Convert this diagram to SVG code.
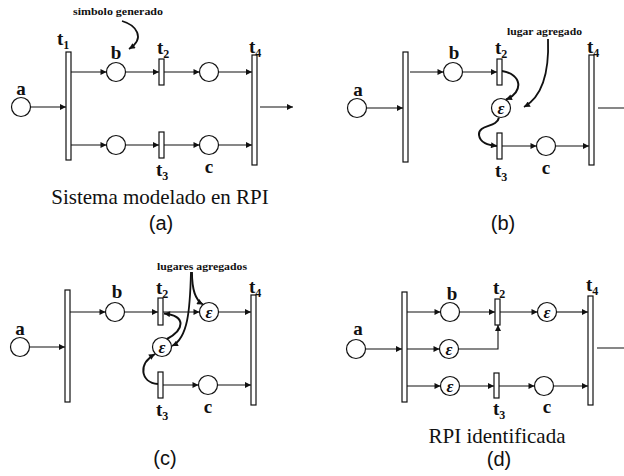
<svg xmlns="http://www.w3.org/2000/svg" width="624" height="476" viewBox="0 0 624 476">
<defs>
<marker id="ah" viewBox="0 0 10 10" refX="10" refY="5" markerWidth="8" markerHeight="6" orient="auto" markerUnits="userSpaceOnUse"><path d="M0,0 L10,5 L0,10 z" fill="#111"/></marker>
<style>
.pl{fill:#fff;stroke:#111;stroke-width:1.2}
.tr{fill:#fff;stroke:#111;stroke-width:1.2}
.cn{fill:none;stroke:#111;stroke-width:1.1;marker-end:url(#ah)}
.cv{fill:none;stroke:#111;stroke-width:2;marker-end:url(#ah)}
.an{fill:none;stroke:#111;stroke-width:1.8;marker-end:url(#ah)}
.lb{font-family:"Liberation Serif","Times New Roman",serif;font-weight:bold;font-size:19px;fill:#111}
.lc{font-family:"Liberation Serif","Times New Roman",serif;font-weight:bold;font-size:19px;fill:#111;text-anchor:middle}
.sb{font-size:12px}
.ep{font-family:"Liberation Serif","Times New Roman",serif;font-weight:bold;font-style:italic;font-size:17px;fill:#111;text-anchor:middle}
.nt{font-family:"Liberation Serif","Times New Roman",serif;font-weight:bold;font-size:11px;fill:#111}
.cap{font-family:"Liberation Serif","Times New Roman",serif;font-size:21px;fill:#111;text-anchor:middle}
.pid{font-family:"Liberation Sans",Arial,sans-serif;font-size:20px;fill:#111;text-anchor:middle}
</style>
</defs>
<rect width="624" height="476" fill="#fff"/>

<!-- Panel (a) -->
<g id="a_connectors">
<path class="cn" d="M30.5,107 H66"/>
<path class="cn" d="M71,72 H106.5"/>
<path class="cn" d="M125.5,72 H159"/>
<path class="cn" d="M164,72 H199.5"/>
<path class="cn" d="M218.5,72 H252"/>
<path class="cn" d="M71,145 H106.5"/>
<path class="cn" d="M125.5,145 H159"/>
<path class="cn" d="M164,145 H199.5"/>
<path class="cn" d="M218.5,145 H252"/>
<path class="cn" d="M260,107 H293"/>
<path class="an" d="M122,21 C136,25 146,38 129,49"/>
</g>
<g id="a_pa"><circle class="pl" cx="21" cy="107" r="9.5"/><text class="lc" x="21" y="95">a</text></g>
<g id="a_t1"><rect class="tr" x="66" y="52" width="5" height="108"/><text class="lb" x="57" y="45">t<tspan class="sb" dy="4">1</tspan></text></g>
<g id="a_pb"><circle class="pl" cx="116" cy="72" r="9.5"/><text class="lc" x="116" y="59">b</text></g>
<g id="a_t2"><rect class="tr" x="159" y="59" width="5" height="26"/><text class="lb" x="157" y="54">t<tspan class="sb" dy="4">2</tspan></text></g>
<g id="a_p2"><circle class="pl" cx="209" cy="72" r="9.5"/></g>
<g id="a_t4"><rect class="tr" x="252" y="55" width="5" height="110"/><text class="lb" x="249" y="53">t<tspan class="sb" dy="4">4</tspan></text></g>
<g id="a_p3"><circle class="pl" cx="116" cy="145" r="9.5"/></g>
<g id="a_t3"><rect class="tr" x="159" y="132" width="5" height="26"/><text class="lb" x="156" y="176">t<tspan class="sb" dy="4">3</tspan></text></g>
<g id="a_pc"><circle class="pl" cx="209" cy="145" r="9.5"/><text class="lc" x="209" y="173">c</text></g>
<g id="a_note"><text class="nt" x="73" y="15" textLength="90" lengthAdjust="spacingAndGlyphs">simbolo generado</text></g>
<g id="a_caption"><text class="cap" x="160" y="204">Sistema modelado en RPI</text><text class="pid" x="161" y="230">(a)</text></g>

<!-- Panel (b) -->
<g id="b_connectors">
<path class="cn" d="M366.5,108 H403"/>
<path class="cn" d="M410,72 H443.5"/>
<path class="cn" d="M462.5,72 H497"/>
<path class="cv" d="M502,71 C522,74 524,92 506,99.5"/>
<path class="cv" d="M499,117.5 C497,128 478,124 479,135 C480,143 488,145 497,146"/>
<path class="cn" d="M502,146 H536.5"/>
<path class="cn" d="M555.5,146 H589"/>
<path class="cn" d="M598,108 H632"/>
<path class="an" d="M548,39 C549,65 545,95 524,107"/>
</g>
<g id="b_pa"><circle class="pl" cx="357" cy="108" r="9.5"/><text class="lc" x="358" y="96">a</text></g>
<g id="b_t1"><rect class="tr" x="403" y="52" width="5" height="110"/></g>
<g id="b_pb"><circle class="pl" cx="453" cy="72" r="9.5"/><text class="lc" x="454" y="59">b</text></g>
<g id="b_t2"><rect class="tr" x="497" y="59" width="5" height="26"/><text class="lb" x="495" y="54">t<tspan class="sb" dy="4">2</tspan></text></g>
<g id="b_pe"><circle class="pl" cx="501" cy="108" r="9.5"/><text class="ep" x="501" y="114">ε</text></g>
<g id="b_t3"><rect class="tr" x="497" y="133" width="5" height="26"/><text class="lb" x="495" y="177">t<tspan class="sb" dy="4">3</tspan></text></g>
<g id="b_pc"><circle class="pl" cx="546" cy="146" r="9.5"/><text class="lc" x="546" y="174">c</text></g>
<g id="b_t4"><rect class="tr" x="589" y="55" width="5" height="110"/><text class="lb" x="587" y="53">t<tspan class="sb" dy="4">4</tspan></text></g>
<g id="b_note"><text class="nt" x="507" y="35" textLength="75" lengthAdjust="spacingAndGlyphs">lugar agregado</text></g>
<g id="b_caption"><text class="pid" x="503" y="230">(b)</text></g>

<!-- Panel (c) -->
<g id="c_connectors">
<path class="cn" d="M29.5,347 H65"/>
<path class="cn" d="M70,312 H105.5"/>
<path class="cn" d="M124.5,312 H158"/>
<path class="cn" d="M163,312 H199.5"/>
<path class="cn" d="M218.5,312 H251"/>
<path class="cv" d="M167,339 C184,330 187,316 164,313.5"/>
<path class="cv" d="M158,384 C140,382 138,364 155,354"/>
<path class="cn" d="M163,385 H198.5"/>
<path class="cn" d="M217.5,385 H251"/>
<path class="an" d="M192,272 C192,290 195,300 203,304.5"/>
<path class="an" d="M191,272 C190,310 188,338 172,346"/>
</g>
<g id="c_pa"><circle class="pl" cx="20" cy="347" r="9.5"/><text class="lc" x="20" y="335">a</text></g>
<g id="c_t1"><rect class="tr" x="65" y="290" width="5" height="112"/></g>
<g id="c_pb"><circle class="pl" cx="115" cy="312" r="9.5"/><text class="lc" x="117" y="298">b</text></g>
<g id="c_t2"><rect class="tr" x="158" y="298" width="5" height="27"/><text class="lb" x="156" y="294">t<tspan class="sb" dy="4">2</tspan></text></g>
<g id="c_pe1"><circle class="pl" cx="209" cy="312" r="9.5"/><text class="ep" x="209" y="318">ε</text></g>
<g id="c_t4"><rect class="tr" x="251" y="295" width="5" height="110"/><text class="lb" x="249" y="293">t<tspan class="sb" dy="4">4</tspan></text></g>
<g id="c_pe2"><circle class="pl" cx="162" cy="347" r="9.5"/><text class="ep" x="162" y="353">ε</text></g>
<g id="c_t3"><rect class="tr" x="158" y="372" width="5" height="26"/><text class="lb" x="156" y="416">t<tspan class="sb" dy="4">3</tspan></text></g>
<g id="c_pc"><circle class="pl" cx="208" cy="385" r="9.5"/><text class="lc" x="208" y="413">c</text></g>
<g id="c_note"><text class="nt" x="157" y="270" textLength="90" lengthAdjust="spacingAndGlyphs">lugares agregados</text></g>
<g id="c_caption"><text class="pid" x="165" y="465">(c)</text></g>

<!-- Panel (d) -->
<g id="d_connectors">
<path class="cn" d="M365.5,349 H402"/>
<path class="cn" d="M402,349 H439.5"/>
<path class="cn" d="M458.5,349 H498 V325"/>
<path class="cn" d="M407,312 H440.5"/>
<path class="cn" d="M459.5,312 H495"/>
<path class="cn" d="M500,312 H537.5"/>
<path class="cn" d="M556.5,312 H588"/>
<path class="cn" d="M407,386 H440.5"/>
<path class="cn" d="M459.5,386 H494"/>
<path class="cn" d="M499,386 H534.5"/>
<path class="cn" d="M553.5,386 H588"/>
<path class="cn" d="M597,348 H630"/>
</g>
<g id="d_pa"><circle class="pl" cx="356" cy="349" r="9.5"/><text class="lc" x="358" y="335">a</text></g>
<g id="d_t1"><rect class="tr" x="402" y="292" width="5" height="110"/></g>
<g id="d_pb"><circle class="pl" cx="450" cy="312" r="9.5"/><text class="lc" x="452" y="300">b</text></g>
<g id="d_t2"><rect class="tr" x="495" y="299" width="5" height="26"/><text class="lb" x="493" y="294">t<tspan class="sb" dy="4">2</tspan></text></g>
<g id="d_pe1"><circle class="pl" cx="547" cy="312" r="9.5"/><text class="ep" x="547" y="318">ε</text></g>
<g id="d_t4"><rect class="tr" x="588" y="296" width="5" height="109"/><text class="lb" x="586" y="291">t<tspan class="sb" dy="4">4</tspan></text></g>
<g id="d_pe2"><circle class="pl" cx="449" cy="349" r="9.5"/><text class="ep" x="449" y="355">ε</text></g>
<g id="d_pe3"><circle class="pl" cx="450" cy="386" r="9.5"/><text class="ep" x="450" y="392">ε</text></g>
<g id="d_t3"><rect class="tr" x="494" y="373" width="5" height="25"/><text class="lb" x="493" y="415">t<tspan class="sb" dy="4">3</tspan></text></g>
<g id="d_pc"><circle class="pl" cx="544" cy="386" r="9.5"/><text class="lc" x="547" y="413">c</text></g>
<g id="d_caption"><text class="cap" x="497" y="443">RPI identificada</text><text class="pid" x="499" y="466">(d)</text></g>
</svg>
